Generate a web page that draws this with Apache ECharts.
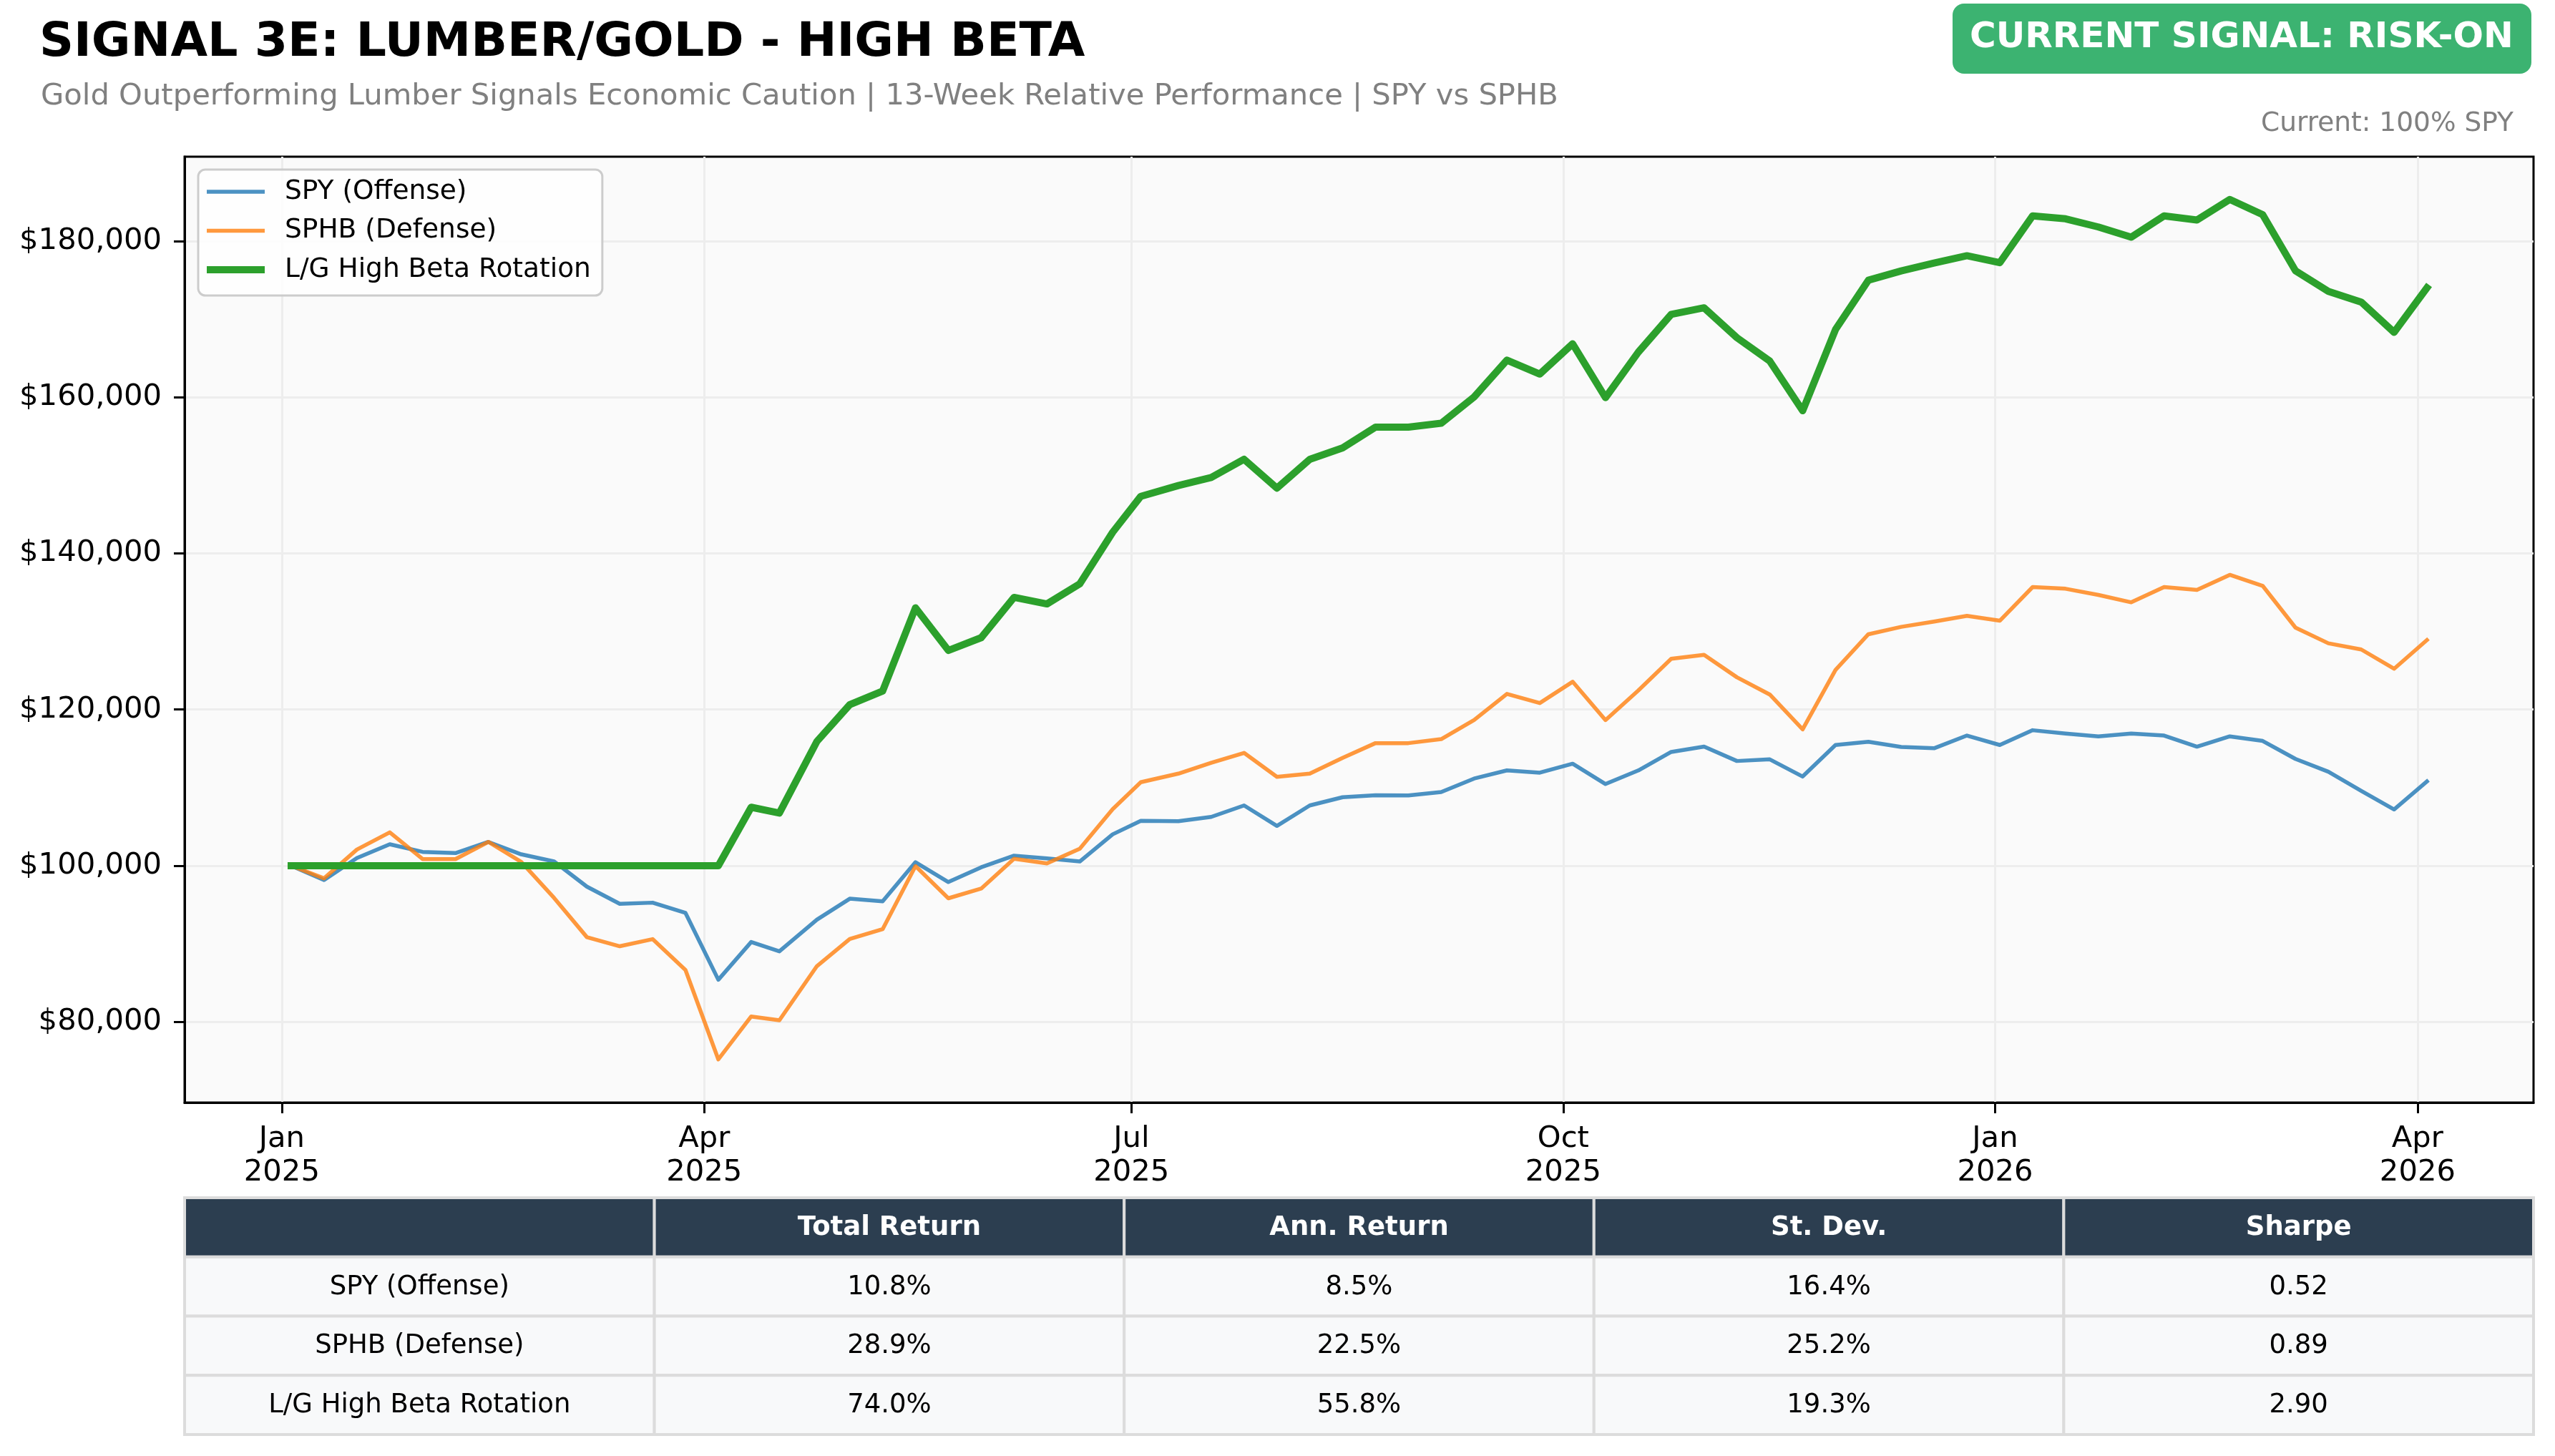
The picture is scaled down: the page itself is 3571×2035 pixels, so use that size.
<!DOCTYPE html>
<html>
<head>
<meta charset="utf-8">
<script src="https://cdn.jsdelivr.net/npm/echarts@6/dist/echarts.min.js"></script>
<style>
  html, body { margin: 0; padding: 0; background: #ffffff; }
  #chart { width: 3571px; height: 2035px; }
</style>
</head>
<body>
<div id="chart"></div>
<script>
// -----------------------------
// DATA
// -----------------------------
const weekDates = [
  "2025-01-03", "2025-01-10", "2025-01-17", "2025-01-24", "2025-01-31",
  "2025-02-07", "2025-02-14", "2025-02-21", "2025-02-28",
  "2025-03-07", "2025-03-14", "2025-03-21", "2025-03-28",
  "2025-04-04", "2025-04-11", "2025-04-17", "2025-04-25",
  "2025-05-02", "2025-05-09", "2025-05-16", "2025-05-23", "2025-05-30",
  "2025-06-06", "2025-06-13", "2025-06-20", "2025-06-27",
  "2025-07-03", "2025-07-11", "2025-07-18", "2025-07-25",
  "2025-08-01", "2025-08-08", "2025-08-15", "2025-08-22", "2025-08-29",
  "2025-09-05", "2025-09-12", "2025-09-19", "2025-09-26",
  "2025-10-03", "2025-10-10", "2025-10-17", "2025-10-24", "2025-10-31",
  "2025-11-07", "2025-11-14", "2025-11-21", "2025-11-28",
  "2025-12-05", "2025-12-12", "2025-12-19", "2025-12-26",
  "2026-01-02", "2026-01-09", "2026-01-16", "2026-01-23", "2026-01-30",
  "2026-02-06", "2026-02-13", "2026-02-20", "2026-02-27",
  "2026-03-06", "2026-03-13", "2026-03-20", "2026-03-27",
  "2026-04-03"
];

const spyValues = [
  100000, 98170, 100980, 102750, 101770,
  101620, 103050, 101460, 100550,
  97320, 95120, 95270, 93960,
  85400, 90230, 89040, 93100,
  95780, 95440, 100450, 97910, 99800,
  101290, 100940, 100540, 104020,
  105750, 105710, 106250, 107720,
  105100, 107720, 108770, 109020, 109000,
  109440, 111160, 112210, 111920,
  113060, 110460, 112200, 114570, 115250,
  113410, 113620, 111420, 115460,
  115870, 115200, 115040, 116670,
  115460, 117350, 116930, 116560, 116930,
  116670, 115250, 116560, 115980,
  113670, 112040, 109580, 107210,
  110800
];

const sphbValues = [
  100000, 98380, 102070, 104270, 100850,
  100850, 103050, 100500, 95880,
  90850, 89690, 90600, 86640,
  75200, 80700, 80210, 87150,
  90620, 91870, 99950, 95830, 97070,
  100890, 100290, 102180, 107240,
  110700, 111790, 113180, 114450,
  111380, 111790, 113810, 115700, 115700,
  116210, 118650, 122000, 120830,
  123560, 118650, 122440, 126490, 127010,
  124130, 121920, 117460, 125070,
  129640, 130590, 131260, 132000,
  131370, 135680, 135470, 134680, 133730,
  135680, 135310, 137250, 135840,
  130480, 128480, 127690, 125220,
  128900
];

const rotationValues = [
  100000, 100000, 100000, 100000, 100000,
  100000, 100000, 100000, 100000,
  100000, 100000, 100000, 100000,
  100000, 107490, 106740, 115920,
  120620, 122360, 133030, 127570, 129200,
  134360, 133520, 136100, 142690,
  147300, 148680, 149720, 152040,
  148340, 152040, 153510, 156160, 156160,
  156660, 160020, 164730, 162960,
  166830, 159940, 165770, 170600, 171440,
  167610, 164620, 158260, 168660,
  174970, 176170, 177170, 178110,
  177220, 183210, 182840, 181790, 180480,
  183210, 182680, 185310, 183370,
  176170, 173550, 172180, 168300,
  174000
];

const seriesNames = ["SPY (Offense)", "SPHB (Defense)", "L/G High Beta Rotation"];

const yTickValues = [80000, 100000, 120000, 140000, 160000, 180000];
const xTickDates = ["2025-01-01", "2025-04-01", "2025-07-01", "2025-10-01", "2026-01-01", "2026-04-01"];
const xTickLabels = ["Jan\n2025", "Apr\n2025", "Jul\n2025", "Oct\n2025", "Jan\n2026", "Apr\n2026"];

const statsHeader = ["", "Total Return", "Ann. Return", "St. Dev.", "Sharpe"];
const statsRows = [
  ["SPY (Offense)", "10.8%", "8.5%", "16.4%", "0.52"],
  ["SPHB (Defense)", "28.9%", "22.5%", "25.2%", "0.89"],
  ["L/G High Beta Rotation", "74.0%", "55.8%", "19.3%", "2.90"]
];

const titleText = "SIGNAL 3E: LUMBER/GOLD - HIGH BETA";
const subtitleText = "Gold Outperforming Lumber Signals Economic Caution | 13-Week Relative Performance | SPY vs SPHB";
const signalText = "CURRENT SIGNAL: RISK-ON";
const allocationText = "Current: 100% SPY";

// -----------------------------
// LAYOUT
// -----------------------------
const FONT = "DejaVu Sans";
const W = 3571, H = 2035;
const plot = { left: 258, right: 3541, top: 219, bottom: 1541 };
const table = { left: 258, right: 3541, top: 1674, rowH: 82.75 };

const toTime = (d) => echarts.time.parse(d).getTime();
const xTickTimes = xTickDates.map(toTime);

function toPairs(values) {
  return weekDates.map((d, i) => [toTime(d), values[i]]);
}

function legendLine(thickness) {
  // the dead sub-path at x=104 widens the icon box so text sits further right
  return "path://M0,0H81V" + thickness + "H0Z M104,0L104," + thickness;
}

function buildTable() {
  const els = [];
  const cols = statsHeader.length;
  const colW = (table.right - table.left) / cols;
  const allRows = [statsHeader].concat(statsRows);

  allRows.forEach((row, r) => {
    const y = table.top + r * table.rowH;
    row.forEach((cell, c) => {
      const x = table.left + c * colW;
      els.push({
        type: "rect",
        shape: { x: x, y: y, width: colW, height: table.rowH },
        style: { fill: r === 0 ? "#2c3e50" : "#f8f9fa", stroke: "#dcdcdc", lineWidth: 4 },
        z: 10
      });
      if (cell) {
        els.push({
          type: "text",
          style: {
            text: cell,
            x: x + colW / 2,
            y: y + table.rowH / 2 + 1,
            align: "center",
            verticalAlign: "middle",
            fontFamily: FONT,
            fontSize: 37,
            fontWeight: r === 0 ? "bold" : "normal",
            fill: r === 0 ? "#ffffff" : "#000000"
          },
          z: 11
        });
      }
    });
  });
  return els;
}

function buildBadge() {
  return [
    {
      type: "rect",
      shape: { x: 2729, y: 5, width: 809, height: 98, r: 16 },
      style: { fill: "#3cb371" },
      z: 10
    },
    {
      type: "text",
      style: {
        text: signalText,
        x: 3133,
        y: 53,
        align: "center",
        verticalAlign: "middle",
        fontFamily: FONT,
        fontSize: 50,
        fontWeight: "bold",
        fill: "#ffffff"
      },
      z: 11
    }
  ];
}

// -----------------------------
// CHART
// -----------------------------
const chart = echarts.init(document.getElementById("chart"), null, { renderer: "canvas", width: W, height: H });

chart.setOption({
  animation: false,
  backgroundColor: "#ffffff",
  textStyle: { fontFamily: FONT },
  title: [
    {
      text: titleText, left: 55, top: 27, padding: 0,
      textStyle: { fontFamily: FONT, fontSize: 66.7, fontWeight: "bold", color: "#000000" }
    },
    {
      text: subtitleText, left: 57, top: 114, padding: 0,
      textStyle: { fontFamily: FONT, fontSize: 41.7, fontWeight: "normal", color: "#808080" }
    },
    {
      text: allocationText, right: 58, top: 154, padding: 0,
      textStyle: { fontFamily: FONT, fontSize: 37.5, fontWeight: "normal", color: "#808080" }
    }
  ],
  legend: {
    orient: "vertical",
    left: 277,
    top: 237,
    padding: [9, 16, 14, 12],
    itemWidth: 104,
    itemHeight: 44,
    itemGap: 10.5,
    symbolKeepAspect: true,
    backgroundColor: "rgba(255,255,255,0.8)",
    borderColor: "#cccccc",
    borderWidth: 3,
    borderRadius: 10,
    itemStyle: { borderWidth: 0 },
    textStyle: { fontFamily: FONT, fontSize: 37.5, color: "#000000", lineHeight: 44 },
    data: [
      { name: seriesNames[0], icon: legendLine(5.5) },
      { name: seriesNames[1], icon: legendLine(5.5) },
      { name: seriesNames[2], icon: legendLine(10) }
    ]
  },
  grid: {
    left: plot.left,
    right: W - plot.right,
    top: plot.top,
    bottom: H - plot.bottom,
    containLabel: false,
    show: true,
    backgroundColor: "#fafafa",
    borderColor: "#000000",
    borderWidth: 3
  },
  xAxis: {
    type: "value",
    min: toTime("2024-12-11 07:00:00"),
    max: toTime("2026-04-25 17:00:00"),
    axisLine: { show: true, onZero: false, lineStyle: { color: "#000000", width: 3 } },
    axisTick: {
      show: true, length: 15, inside: false,
      customValues: xTickTimes,
      lineStyle: { color: "#000000", width: 3 }
    },
    axisLabel: {
      customValues: xTickTimes,
      margin: 27,
      color: "#000000",
      fontFamily: FONT,
      fontSize: 41.7,
      lineHeight: 47.5,
      align: "center",
      formatter: (value) => {
        const i = xTickTimes.indexOf(+value);
        return i >= 0 ? xTickLabels[i] : "";
      }
    },
    splitLine: { show: true, lineStyle: { color: "#ededed", width: 3 } },
    minorTick: { show: false }
  },
  yAxis: {
    type: "value",
    min: 69675,
    max: 190790,
    axisLine: { show: true, onZero: false, lineStyle: { color: "#000000", width: 3 } },
    axisTick: {
      show: true, length: 15, inside: false,
      customValues: yTickValues,
      lineStyle: { color: "#000000", width: 3 }
    },
    axisLabel: {
      customValues: yTickValues,
      margin: 32,
      color: "#000000",
      fontFamily: FONT,
      fontSize: 41.7,
      formatter: (v) => "$" + Number(v).toLocaleString("en-US")
    },
    splitLine: { show: true, lineStyle: { color: "#ededed", width: 3 } }
  },
  series: [
    {
      name: seriesNames[0],
      type: "line",
      data: toPairs(spyValues),
      showSymbol: false,
      symbol: "none",
      color: "rgba(31,119,180,0.8)",
      lineStyle: { width: 5.5, join: "round", cap: "square" },
      z: 3
    },
    {
      name: seriesNames[1],
      type: "line",
      data: toPairs(sphbValues),
      showSymbol: false,
      symbol: "none",
      color: "rgba(255,127,14,0.8)",
      lineStyle: { width: 5.5, join: "round", cap: "square" },
      z: 4
    },
    {
      name: seriesNames[2],
      type: "line",
      data: toPairs(rotationValues),
      showSymbol: false,
      symbol: "none",
      color: "#2ca02c",
      lineStyle: { width: 10, join: "round", cap: "square" },
      z: 5
    }
  ],
  graphic: buildBadge().concat(buildTable())
});
</script>
</body>
</html>
